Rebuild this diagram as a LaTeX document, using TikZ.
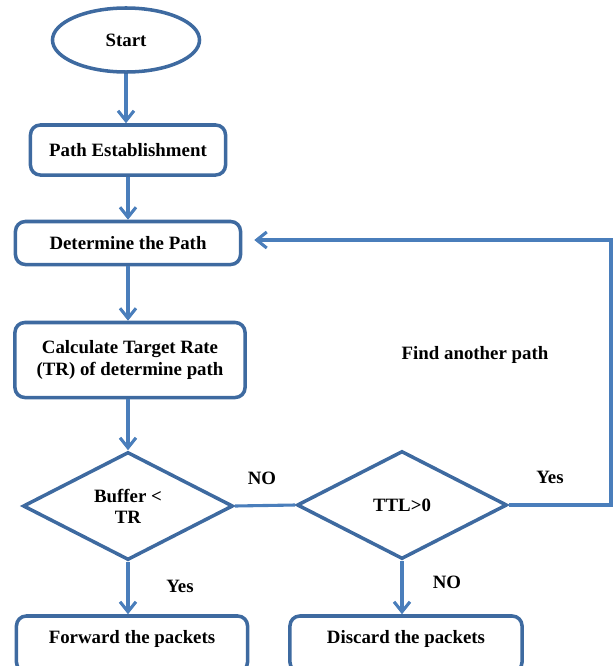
\documentclass[tikz,border=0pt]{standalone}
\usepackage{fontspec}
\setmainfont{Liberation Serif}
\usetikzlibrary{shapes.geometric, arrows.meta}
\definecolor{edgeblue}{RGB}{62,106,160}
\definecolor{lineblue}{RGB}{74,126,187}

\begin{document}
\begin{tikzpicture}[x=.025cm, y=-.025cm,
    every node/.style={font=\fontsize{13.4}{15}\selectfont\bfseries},
    box/.style={draw=edgeblue, line width=2.5pt, rounded corners=7pt, align=center, inner sep=0pt},
    decision/.style={draw=edgeblue, line width=2.5pt, diamond, aspect=2, inner sep=0pt, align=center, minimum width=5.25cm, minimum height=2.7cm},
    flow/.style={draw=lineblue, line width=2.2pt, -{Straight Barb[length=2.5mm, width=4mm]}},
    link/.style={draw=lineblue, line width=2.2pt}]
    \useasboundingbox(0, 0) rectangle (613, 666);
    % main column
    \node[draw=edgeblue, line width=2.5pt, ellipse, minimum width=3.675cm, minimum height=1.6cm](start) at(126, 40){Start};
    \node[box, minimum width=4.875cm, minimum height=1.25cm](path) at(128, 150){Path Establishment};
    \node[box, minimum width=5.625cm, minimum height=1.075cm](determine) at(128, 243){Determine the Path};
    \node[box, minimum width=5.75cm, minimum height=1.875cm](calc) at(130, 360){Calculate Target Rate\\(TR) of determine path};
    \node[decision](buffer) at(128, 506){Buffer <\\TR};
    \node[decision](ttl) at(402, 505){TTL>0};
    \node[box, minimum width=5.775cm, minimum height=1.4cm, text depth=.36cm](forward) at(132, 644){Forward the packets};
    \node[box, minimum width=5.8cm, minimum height=1.4cm, text depth=.36cm](discard) at(406, 644){Discard the packets};
    \coordinate(turn) at(611, 240);
    % labels
    \node(buffer no) at(262, 478){NO};
    \node(ttl yes) at(550, 477){Yes};
    \node(another) at(475, 355){Find another path};
    \node(buffer yes) at(180, 586){Yes};
    \node(ttl no) at(447, 582){NO};
    % connectors
    \draw[flow](start) -- (start |- path.north);
    \draw[flow](path) -- (path |- determine.north);
    \draw[flow](determine) -- (determine |- calc.north);
    \draw[flow](calc.south -| buffer) -- (buffer.north);
    \draw[link](buffer.east) -- (ttl.west);
    \draw[flow](buffer.south) -- (buffer.south |- forward.north);
    \draw[flow](ttl.south) -- (ttl.south |- discard.north);
    \draw[flow, shorten >=.3cm](ttl.east) -| (turn) -- (determine.east |- turn);
\end{tikzpicture}
\end{document}
